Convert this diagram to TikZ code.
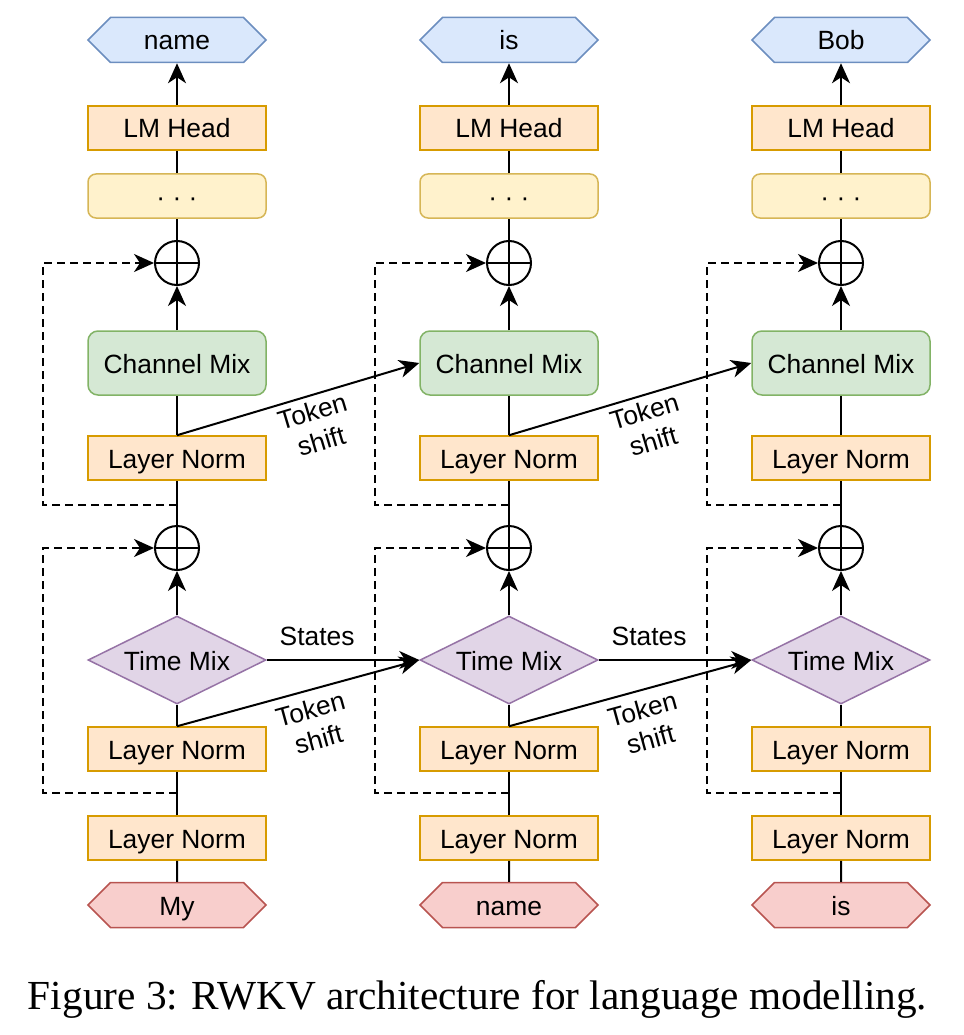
\documentclass[tikz,border=0pt]{standalone}
\usepackage{fontspec}
\setmainfont{Liberation Sans}
\newfontfamily\captionfont{Liberation Serif}
\usetikzlibrary{shapes.geometric, shapes.symbols, arrows.meta}

\definecolor{outfill}{HTML}{DAE8FC}
\definecolor{outline}{HTML}{6C8EBF}
\definecolor{infill}{HTML}{F8CECC}
\definecolor{inline}{HTML}{B85450}
\definecolor{lnfill}{HTML}{FFE6CC}
\definecolor{lnline}{HTML}{D79B00}
\definecolor{dotfill}{HTML}{FFF2CC}
\definecolor{dotline}{HTML}{D6B656}
\definecolor{cmfill}{HTML}{D5E8D4}
\definecolor{cmline}{HTML}{82B366}
\definecolor{tmfill}{HTML}{E1D5E7}
\definecolor{tmline}{HTML}{9673A6}

\tikzset{
  boxfont/.style={font=\fontsize{26.4}{31}\selectfont},
  boxtext/.style={boxfont, text height=20pt, text depth=0pt},
  block/.style={boxtext, draw, line width=1.5pt, minimum width=178pt,
    minimum height=44pt, inner sep=0pt},
  normbox/.style={block, draw=lnline, fill=lnfill},
  dotsbox/.style={block, rounded corners=8pt, draw=dotline, fill=dotfill},
  mixbox/.style={block, rounded corners=10pt, minimum height=64pt,
    draw=cmline, fill=cmfill},
  timebox/.style={boxtext, diamond, aspect=2, draw=tmline, fill=tmfill,
    line width=1.5pt, minimum width=178pt, minimum height=88pt, inner sep=0pt},
  tokenbox/.style={boxtext, signal, signal to=west and east,
    signal pointer angle=90, line width=1.5pt, minimum width=178pt,
    minimum height=45pt, inner sep=0pt},
  adder/.style={circle, draw, line width=2pt, minimum size=44pt, inner sep=0pt,
    path picture={\draw[line width=2pt]
      (path picture bounding box.north) -- (path picture bounding box.south)
      (path picture bounding box.west) -- (path picture bounding box.east);}},
  flow/.style={line width=2pt},
  skip/.style={flow, dash pattern=on 8pt off 5pt},
  shiftlabel/.style={boxfont, sloped, inner sep=0pt, align=center},
}

\begin{document}
\begin{tikzpicture}[x=1pt, y=-1pt, >={Stealth[length=20pt, width=18pt, inset=6pt]}]
  \useasboundingbox (0,0) rectangle (963,1035);

  % one column per token
  \foreach \i/\x/\outw/\inw in {1/177/name/My, 2/509/is/name, 3/841/Bob/is} {
    \node[tokenbox, draw=outline, fill=outfill] (out\i) at (\x,40) {\outw};
    \node[normbox] (head\i) at (\x,128) {LM Head};
    \node[dotsbox] (dots\i) at (\x,196) {· · ·};
    \node[adder] (addc\i) at (\x,263) {};
    \node[mixbox] (cmix\i) at (\x,363) {Channel Mix};
    \node[normbox] (lnc\i) at (\x,458) {Layer Norm};
    \node[adder] (addt\i) at (\x,548) {};
    \node[timebox] (tmix\i) at (\x,660) {Time Mix};
    \node[normbox] (lnt\i) at (\x,749) {Layer Norm};
    \node[normbox] (lnin\i) at (\x,838) {Layer Norm};
    \node[tokenbox, draw=inline, fill=infill] (in\i) at (\x,905) {\inw};
    \coordinate (tapc\i) at (\x,505);
    \coordinate (tapt\i) at (\x,793);

    \draw[flow] (in\i) -- (lnin\i);
    \draw[flow] (lnin\i) -- (lnt\i);
    \draw[flow] (lnt\i) -- (tmix\i);
    \draw[flow, ->] (tmix\i) -- (addt\i);
    \draw[flow] (addt\i) -- (lnc\i);
    \draw[flow] (lnc\i) -- (cmix\i);
    \draw[flow, ->] (cmix\i) -- (addc\i);
    \draw[flow] (addc\i) -- (dots\i);
    \draw[flow] (dots\i) -- (head\i);
    \draw[flow, ->] (head\i) -- (out\i);

    % residual paths
    \draw[skip, ->] (tapc\i) -- ++(-134,0) |- (addc\i.west);
    \draw[skip, ->] (tapt\i) -- ++(-134,0) |- (addt\i.west);
  }

  % links to the next token
  \foreach \i/\j in {1/2, 2/3} {
    \draw[flow, ->] (lnc\i.north) -- (cmix\j.west)
      node[shiftlabel, below=5pt, pos=0.54] {Token\\shift};
    \draw[flow, ->] (tmix\i.east) -- (tmix\j.west)
      node[boxfont, above=13pt, inner sep=0pt, pos=0.33] {States};
    \draw[flow, ->] (lnt\i.north) -- (tmix\j.west)
      node[shiftlabel, below=8pt, pos=0.53] {Token\\shift};
  }

  \node[font=\captionfont\fontsize{41.3}{48}\selectfont, anchor=base] (caption)
    at (477.5,1009) {Figure 3: RWKV architecture for language modelling.};
\end{tikzpicture}
\end{document}
